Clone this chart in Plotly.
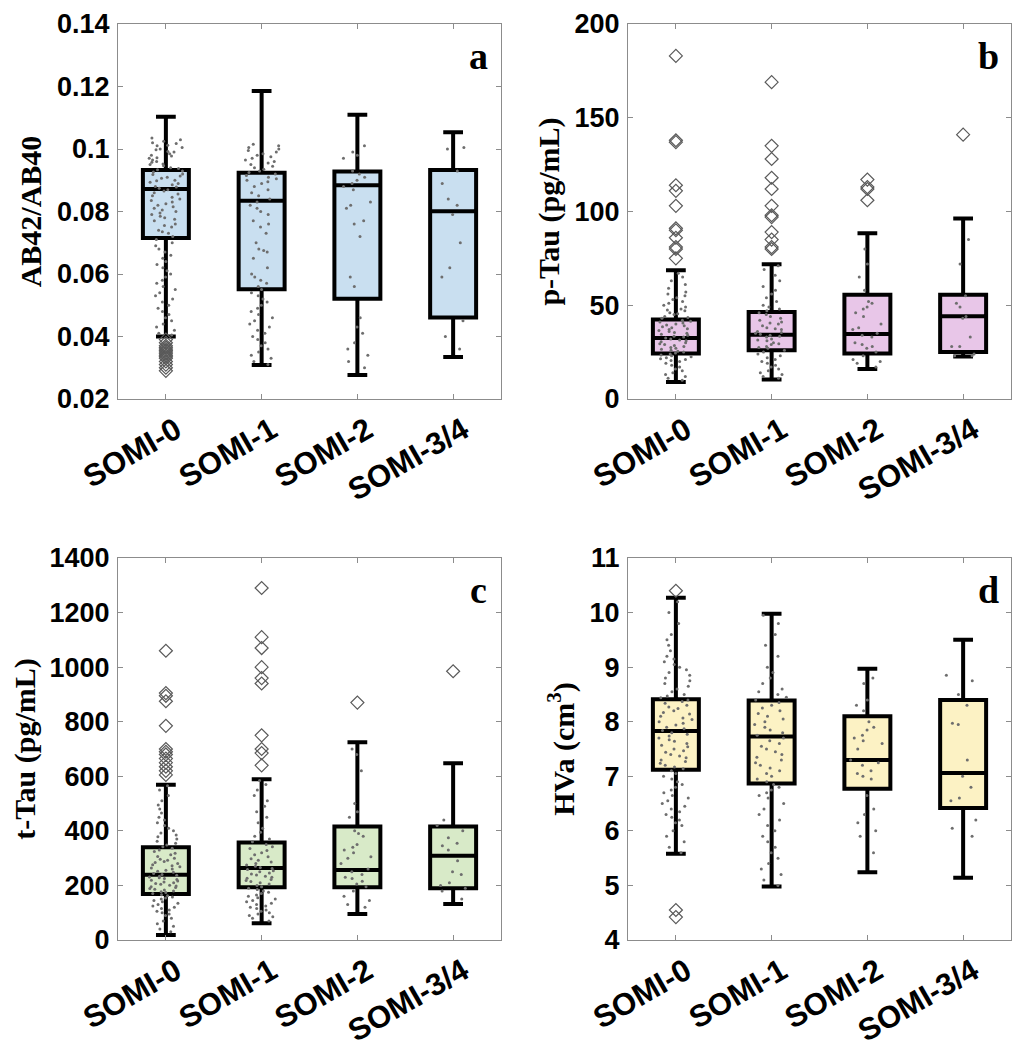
import plotly.graph_objects as go

categories = ["SOMI-0", "SOMI-1", "SOMI-2", "SOMI-3/4"]

# ---- panel a : AB42/AB40 ----
a_q1 = [0.0715, 0.0551, 0.0521, 0.0461]
a_med = [0.0872, 0.0834, 0.0884, 0.0801]
a_q3 = [0.0933, 0.0924, 0.0928, 0.0933]
a_lo = [0.0400, 0.0309, 0.0277, 0.0334]
a_hi = [0.1103, 0.1186, 0.1110, 0.1054]
a_pts = [
    [0.1035, 0.103, 0.1025, 0.102, 0.1018, 0.1012, 0.101, 0.1005, 0.100, 0.0998, 0.0992, 0.099, 0.0985,
     0.098, 0.0978, 0.0972, 0.097, 0.0965, 0.096, 0.0958, 0.0952, 0.095, 0.0946, 0.094, 0.0938, 0.0934,
     0.093, 0.0926, 0.092, 0.0918, 0.0914, 0.091, 0.0906, 0.090, 0.0898, 0.0894, 0.089, 0.0886, 0.088,
     0.0878, 0.0874, 0.087, 0.0866, 0.086, 0.0856, 0.085, 0.0846, 0.084, 0.0835, 0.083, 0.0825, 0.082,
     0.0815, 0.081, 0.0805, 0.080, 0.0795, 0.079, 0.0785, 0.078, 0.0775, 0.077, 0.076, 0.0755, 0.075,
     0.074, 0.0735, 0.073, 0.072, 0.071, 0.070, 0.069, 0.068, 0.067, 0.066, 0.065, 0.064, 0.063, 0.062,
     0.061, 0.060, 0.059, 0.058, 0.057, 0.056, 0.055, 0.054, 0.053, 0.052, 0.051, 0.050, 0.049, 0.048,
     0.047, 0.046, 0.045, 0.044, 0.043, 0.042, 0.041, 0.0405],
    [0.1015, 0.101, 0.1005, 0.100, 0.0995, 0.099, 0.0985, 0.098, 0.0975, 0.097, 0.0965, 0.096, 0.0955,
     0.095, 0.0945, 0.094, 0.0935, 0.093, 0.0925, 0.092, 0.0915, 0.091, 0.0905, 0.090, 0.0895, 0.089,
     0.088, 0.087, 0.086, 0.085, 0.084, 0.083, 0.082, 0.081, 0.080, 0.079, 0.077, 0.076, 0.075, 0.073,
     0.070, 0.068, 0.0675, 0.067, 0.065, 0.062, 0.060, 0.059, 0.058, 0.057, 0.056, 0.055, 0.054, 0.053,
     0.052, 0.051, 0.050, 0.049, 0.048, 0.047, 0.046, 0.045, 0.044, 0.043, 0.042, 0.041, 0.040, 0.039,
     0.038, 0.037, 0.036, 0.035, 0.034, 0.033, 0.032, 0.031],
    [0.101, 0.099, 0.098, 0.097, 0.093, 0.092, 0.091, 0.090, 0.089, 0.088, 0.087, 0.083, 0.082, 0.081,
     0.077, 0.076, 0.072, 0.059, 0.056, 0.046, 0.043, 0.041, 0.038, 0.036, 0.034, 0.032, 0.030],
    [0.100, 0.1005, 0.093, 0.089, 0.084, 0.082, 0.079, 0.070, 0.062, 0.059, 0.045, 0.040, 0.036],
]
a_out = [
    [0.039, 0.038, 0.037, 0.0365, 0.036, 0.0355, 0.035, 0.0345, 0.034, 0.0335, 0.033, 0.032, 0.031, 0.030, 0.029],
    [], [], [],
]

# ---- panel b : p-Tau ----
b_q1 = [24.3, 26.0, 24.3, 25.0]
b_med = [32.5, 34.2, 34.7, 44.1]
b_q3 = [42.4, 46.4, 55.6, 55.6]
b_lo = [9.1, 10.4, 16.0, 22.6]
b_hi = [68.6, 71.9, 88.4, 96.2]
b_pts = [
    [67, 65, 63, 61, 59, 57, 56, 55, 54, 53, 52, 51, 50, 49, 48, 47.5, 47, 46, 45.5, 45, 44, 43.5, 43, 42,
     41.5, 41, 40.5, 40, 39.5, 39, 38.5, 38, 37.5, 37, 36.5, 36, 35.5, 35, 34.5, 34, 33.5, 33, 32.5, 32,
     31.5, 31, 30.5, 30, 29.5, 29, 28.5, 28, 27.5, 27, 26.5, 26, 25.5, 25, 24.5, 24, 23.5, 23, 22.5, 22,
     21.5, 21, 20.5, 20, 19, 18, 17, 16, 15, 14, 13, 12, 11, 10],
    [71, 69, 66, 63, 60, 58, 56, 54, 52, 50, 49, 48, 47, 46, 45, 44, 43, 42, 41, 40.5, 40, 39, 38, 37.5,
     37, 36, 35.5, 35, 34.5, 34, 33.5, 33, 32, 31.5, 31, 30, 29.5, 29, 28, 27.5, 27, 26, 25, 24, 23, 22,
     21, 20, 19, 18, 17, 16, 15, 14, 13, 12, 11],
    [80, 72, 65, 58, 52, 51, 49, 48, 46, 44, 40, 38, 37, 35, 34, 33, 30, 29, 28, 27, 25, 23, 21, 20, 19, 17],
    [85, 72, 55, 51, 49, 44, 43, 33, 28, 28, 24, 23, 23],
]
b_out = [
    [183, 138, 137, 114, 111, 103, 91, 90, 86, 81, 80, 75],
    [169, 135, 128, 118, 112, 103, 98, 97, 89, 85, 81, 80],
    [117, 113, 112, 106],
    [141],
]

# ---- panel c : t-Tau ----
c_q1 = [169, 193, 193, 190]
c_med = [239, 264, 257, 309]
c_q3 = [340, 357, 416, 416]
c_lo = [18, 61, 95, 132]
c_hi = [569, 589, 725, 648]
c_pts = [
    [565, 550, 530, 510, 495, 480, 465, 450, 440, 430, 420, 410, 400, 392, 385, 378, 370, 362, 355, 348,
     342, 336, 330, 324, 318, 312, 306, 300, 296, 292, 288, 284, 280, 276, 272, 268, 264, 260, 256, 252,
     248, 244, 240, 237, 234, 231, 228, 225, 222, 219, 216, 213, 210, 207, 204, 201, 198, 195, 192, 189,
     186, 183, 180, 177, 174, 170, 166, 162, 158, 154, 150, 145, 140, 135, 130, 125, 120, 115, 110, 105,
     100, 95, 90, 80, 70, 60, 50, 40, 30],
    [585, 570, 550, 530, 510, 490, 470, 450, 430, 410, 395, 380, 370, 360, 350, 342, 335, 328, 320, 312,
     305, 298, 292, 286, 280, 275, 270, 266, 262, 258, 254, 250, 246, 242, 238, 234, 230, 226, 222, 218,
     214, 210, 205, 200, 195, 190, 185, 180, 175, 170, 165, 160, 155, 150, 145, 140, 135, 130, 125, 120,
     115, 110, 105, 100, 95, 90, 85, 80, 70],
    [700, 680, 620, 500, 470, 450, 400, 390, 380, 350, 340, 330, 320, 305, 300, 280, 260, 250, 240, 230,
     225, 215, 205, 195, 180, 160, 145, 130, 120],
    [440, 420, 400, 375, 355, 345, 330, 290, 250, 240, 210, 200, 190, 180, 150],
]
c_out = [
    [1060, 905, 895, 875, 785, 700, 690, 680, 665, 650, 635, 620, 605],
    [1290, 1110, 1070, 1000, 960, 940, 750, 700, 685, 640],
    [870],
    [985],
]

# ---- panel d : HVa ----
d_q1 = [7.12, 6.87, 6.77, 6.42]
d_med = [7.83, 7.73, 7.30, 7.06]
d_q3 = [8.41, 8.39, 8.10, 8.40]
d_lo = [5.58, 4.98, 5.24, 5.14]
d_hi = [10.27, 9.98, 8.97, 9.50]
d_pts = [
    [10.2, 10.0, 9.8, 9.6, 9.5, 9.4, 9.3, 9.2, 9.15, 9.1, 9.05, 9.0, 8.95, 8.9, 8.85, 8.8, 8.75, 8.7, 8.65,
     8.6, 8.55, 8.5, 8.47, 8.44, 8.4, 8.37, 8.34, 8.3, 8.27, 8.24, 8.2, 8.17, 8.14, 8.1, 8.07, 8.04, 8.0,
     7.97, 7.94, 7.9, 7.87, 7.84, 7.8, 7.77, 7.74, 7.7, 7.67, 7.64, 7.6, 7.57, 7.54, 7.5, 7.47, 7.44, 7.4,
     7.37, 7.34, 7.3, 7.27, 7.24, 7.2, 7.17, 7.14, 7.1, 7.05, 7.0, 6.95, 6.9, 6.85, 6.8, 6.75, 6.7, 6.65,
     6.6, 6.55, 6.5, 6.45, 6.4, 6.35, 6.3, 6.25, 6.2, 6.15, 6.1, 6.0, 5.9, 5.8, 5.7, 5.6],
    [9.95, 9.8, 9.6, 9.4, 9.2, 9.0, 8.9, 8.8, 8.7, 8.6, 8.55, 8.5, 8.45, 8.4, 8.35, 8.3, 8.25, 8.2, 8.15,
     8.1, 8.05, 8.0, 7.95, 7.9, 7.85, 7.8, 7.75, 7.7, 7.65, 7.6, 7.55, 7.5, 7.45, 7.4, 7.35, 7.3, 7.25,
     7.2, 7.15, 7.1, 7.05, 7.0, 6.95, 6.9, 6.85, 6.8, 6.75, 6.7, 6.65, 6.6, 6.5, 6.4, 6.3, 6.2, 6.1, 6.0,
     5.9, 5.8, 5.7, 5.6, 5.5, 5.4, 5.3, 5.2, 5.1, 5.0],
    [8.8, 8.7, 8.4, 8.3, 8.2, 8.0, 7.9, 7.85, 7.75, 7.7, 7.65, 7.6, 7.5, 7.3, 7.25, 7.2, 7.1, 7.05, 7.0,
     6.95, 6.65, 6.4, 6.3, 6.15, 6.0, 5.9, 5.6],
    [8.85, 8.75, 8.5, 8.3, 7.95, 7.97, 7.3, 7.0, 6.8, 6.6, 6.55, 6.2, 6.05, 5.9],
]
d_out = [[10.40, 4.55, 4.42], [], [], []]

# ---- titles / ranges / ticks ----
y_titles = ["AB42/AB40", "p-Tau (pg/mL)", "t-Tau (pg/mL)", "HVa (cm<sup>3</sup>)"]
y_ranges = [[0.02, 0.14], [0, 200], [0, 1400], [4, 11]]
y_ticks = [
    [0.02, 0.04, 0.06, 0.08, 0.1, 0.12, 0.14],
    [0, 50, 100, 150, 200],
    [0, 200, 400, 600, 800, 1000, 1200, 1400],
    [4, 5, 6, 7, 8, 9, 10, 11],
]
y_ticktext = [
    ["0.02", "0.04", "0.06", "0.08", "0.1", "0.12", "0.14"],
    ["0", "50", "100", "150", "200"],
    ["0", "200", "400", "600", "800", "1000", "1200", "1400"],
    ["4", "5", "6", "7", "8", "9", "10", "11"],
]
panel_letters = ["a", "b", "c", "d"]

fills = ["#c9dff0", "#e8c6e8", "#d8eac8", "#fcf2c4"]
stats = [
    (a_q1, a_med, a_q3, a_lo, a_hi, a_pts, a_out),
    (b_q1, b_med, b_q3, b_lo, b_hi, b_pts, b_out),
    (c_q1, c_med, c_q3, c_lo, c_hi, c_pts, c_out),
    (d_q1, d_med, d_q3, d_lo, d_hi, d_pts, d_out),
]

W, H = 1020, 1050
OFF = 8  # page body margin
TOP_A = 24
x_domains = [[(118 - OFF) / W, (501 - OFF) / W], [(628 - OFF) / W, (1011 - OFF) / W],
             [(118 - OFF) / W, (501 - OFF) / W], [(628 - OFF) / W, (1011 - OFF) / W]]
y_domains = [[1 - (399 - OFF) / H, 1 - (TOP_A - OFF) / H], [1 - (399 - OFF) / H, 1 - (TOP_A - OFF) / H],
             [1 - (940 - OFF) / H, 1 - (558 - OFF) / H], [1 - (940 - OFF) / H, 1 - (558 - OFF) / H]]

fig = go.Figure()
BOXW = 0.48

for p in range(4):
    q1, med, q3, lo, hi, pts, outs = stats[p]
    xa = "x" if p == 0 else f"x{p + 1}"
    ya = "y" if p == 0 else f"y{p + 1}"
    fig.add_trace(go.Box(
        x=categories, q1=q1, median=med, q3=q3, lowerfence=lo, upperfence=hi,
        width=BOXW, whiskerwidth=0.43, boxpoints=False,
        fillcolor=fills[p], line=dict(color="black", width=4),
        xaxis=xa, yaxis=ya, showlegend=False,
    ))
    for i, cat in enumerate(categories):
        fig.add_trace(go.Box(
            x=[cat] * len(pts[i]), y=pts[i], width=BOXW,
            boxpoints="all", jitter=0.75, pointpos=0,
            fillcolor="rgba(0,0,0,0)", line=dict(color="rgba(0,0,0,0)", width=0),
            marker=dict(size=3, color="#6e6e6e", line=dict(width=0)),
            xaxis=xa, yaxis=ya, showlegend=False, hoveron="points",
        ))
        if outs[i]:
            fig.add_trace(go.Scatter(
                x=[cat] * len(outs[i]), y=outs[i], mode="markers",
                marker=dict(symbol="diamond-open", size=10, color="#5a5a5a", line=dict(width=1.2)),
                xaxis=xa, yaxis=ya, showlegend=False,
            ))

layout = dict(
    width=W, height=H, margin=dict(l=0, r=0, t=0, b=0),
    paper_bgcolor="white", plot_bgcolor="white", boxmode="overlay",
    showlegend=False,
)
axis_common = dict(showline=True, linecolor="#8c8c8c", linewidth=1, mirror="ticks",
                   ticks="inside", ticklen=5, tickcolor="#8c8c8c", showgrid=False,
                   zeroline=False, automargin=False, ticklabeloverflow="allow")
annotations = []
for p in range(4):
    xk = "xaxis" if p == 0 else f"xaxis{p + 1}"
    yk = "yaxis" if p == 0 else f"yaxis{p + 1}"
    ya = "y" if p == 0 else f"y{p + 1}"
    xa = "x" if p == 0 else f"x{p + 1}"
    layout[xk] = dict(axis_common, domain=x_domains[p], anchor=ya, type="category",
                      categoryorder="array", categoryarray=categories,
                      range=[-0.5, 3.5], tickangle=-30, ticklabelstandoff=0, ticklabelshift=10,
                      tickfont=dict(family="Liberation Sans, Arial", size=31, color="black", weight="bold"))
    layout[yk] = dict(axis_common, domain=y_domains[p], anchor=xa, range=y_ranges[p],
                      tickmode="array", tickvals=y_ticks[p], ticktext=y_ticktext[p],
                      ticklabelstandoff=2,
                      tickfont=dict(family="Liberation Sans, Arial", size=27, color="black", weight="bold"),
                      title=dict(text=y_titles[p], standoff=6,
                                 font=dict(family="Liberation Serif, Times New Roman", size=30,
                                           color="black", weight="bold")))
    annotations.append(dict(
        text=panel_letters[p], xref=f"{xa} domain", yref=f"{ya} domain",
        x=0.94, y=0.915, xanchor="center", yanchor="middle", showarrow=False,
        font=dict(family="Liberation Serif, Times New Roman", size=38, color="black", weight="bold"),
    ))
layout["annotations"] = annotations
fig.update_layout(**layout)

fig.write_html("out.html")
